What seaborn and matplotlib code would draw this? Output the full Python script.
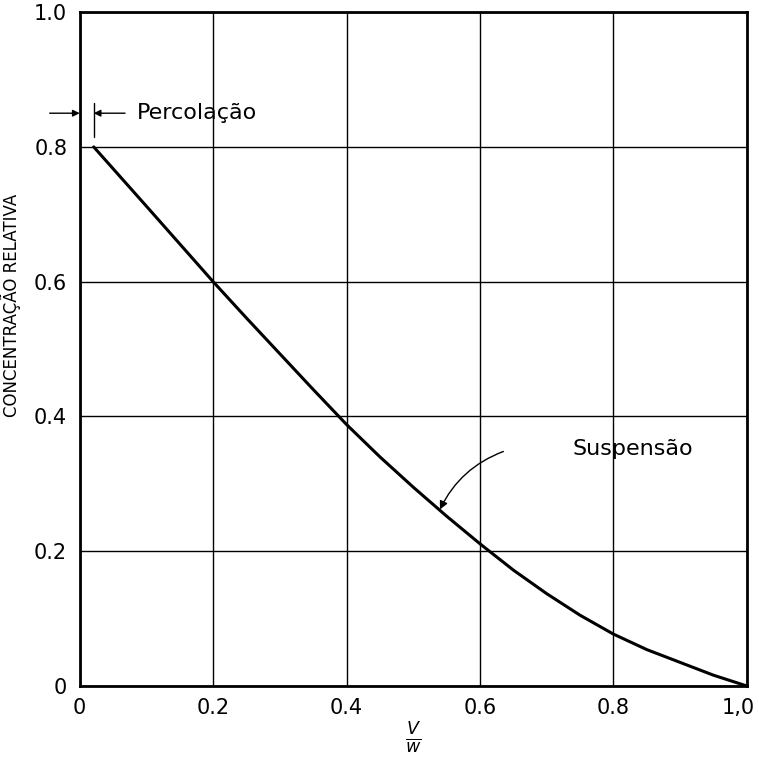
import matplotlib
matplotlib.use("Agg")
import matplotlib.pyplot as plt
import matplotlib.transforms as mtransforms
import seaborn as sns
import pandas as pd

# curve
v_over_w = [0.021, 0.1, 0.2, 0.25, 0.3, 0.35, 0.4, 0.45, 0.5, 0.55, 0.6,
            0.65, 0.7, 0.75, 0.8, 0.85, 0.9, 0.95, 1.0]
conc_rel = [0.800, 0.712, 0.600, 0.546, 0.493, 0.440, 0.388, 0.340, 0.295, 0.252, 0.211,
            0.172, 0.137, 0.105, 0.077, 0.054, 0.035, 0.016, 0.0]

x_ticks = [0, 0.2, 0.4, 0.6, 0.8, 1.0]
x_tick_labels = ["0", "0.2", "0.4", "0.6", "0.8", "1,0"]
y_ticks = [0, 0.2, 0.4, 0.6, 0.8, 1.0]
y_tick_labels = ["0", "0.2", "0.4", "0.6", "0.8", "1.0"]

df = pd.DataFrame({"v_over_w": v_over_w, "conc": conc_rel})

sns.set_style("white")
plt.rcParams["font.family"] = ["DejaVu Sans"]
plt.rcParams.update({"text.color": "black", "axes.labelcolor": "black",
                     "xtick.color": "black", "ytick.color": "black"})

fig = plt.figure(figsize=(7.59, 7.58), dpi=100)
ax = fig.add_axes([0.105, 0.095, 0.879, 0.889])

sns.lineplot(data=df, x="v_over_w", y="conc", color="black", lw=2.2, ax=ax)

ax.set_xlim(0, 1)
ax.set_ylim(0, 1)
ax.set_xticks(x_ticks)
ax.set_xticklabels(x_tick_labels, fontsize=15)
ax.set_yticks(y_ticks)
ax.set_yticklabels(y_tick_labels, fontsize=15)
ax.tick_params(length=0, pad=9)
ax.grid(True, color="black", lw=1.0)
for sp in ax.spines.values():
    sp.set_color("black")
    sp.set_linewidth(2)

# keep the last x label inside the figure
last = ax.get_xticklabels()[-1]
last.set_transform(last.get_transform() + mtransforms.ScaledTranslation(-6 / 72, 0, fig.dpi_scale_trans))

ax.set_xlabel(r"$\frac{V}{w}$", fontsize=18, labelpad=2)
ax.set_ylabel("CONCENTRAÇÃO RELATIVA", fontsize=12)
ax.yaxis.set_label_coords(-0.088, 0.565)

# percolation marker
arr = dict(arrowstyle="-|>", color="black", lw=1, mutation_scale=10, shrinkA=0, shrinkB=0)
ax.annotate("", xy=(0.0, 0.85), xytext=(-0.045, 0.85), arrowprops=arr, annotation_clip=False)
ax.annotate("", xy=(0.021, 0.85), xytext=(0.068, 0.85), arrowprops=arr)
ax.plot([0.021, 0.021], [0.815, 0.865], color="black", lw=1)
ax.text(0.086, 0.85, "Percolação", fontsize=16, va="center", ha="left")

# suspension label
ax.annotate("", xy=(0.54, 0.262), xytext=(0.635, 0.348),
            arrowprops=dict(arrowstyle="-|>", color="black", lw=1, mutation_scale=12,
                            shrinkA=0, shrinkB=0, connectionstyle="arc3,rad=0.2"))
ax.text(0.738, 0.352, "Suspensão", fontsize=16, va="center", ha="left")

fig.savefig("out.png", dpi=100)
